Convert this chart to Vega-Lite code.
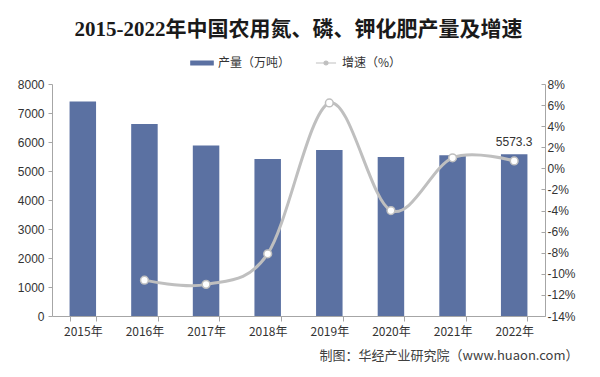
{
  "$schema": "https://vega.github.io/schema/vega-lite/v6.json",
  "width": 493,
  "height": 232,
  "autosize": {"type": "none"},
  "padding": {"left": 52, "top": 84, "right": 55, "bottom": 61},
  "background": "white",
  "title": {
    "text": "2015-2022年中国农用氮、磷、钾化肥产量及增速",
    "font": "Liberation Serif, Noto Sans CJK SC",
    "fontSize": 21,
    "fontWeight": "bold",
    "color": "#1a1a1a",
    "anchor": "middle",
    "offset": 11
  },
  "data": {
    "values": [
      {"year": "2015年", "output": 7400, "growth": null},
      {"year": "2016年", "output": 6620, "growth": -10.6},
      {"year": "2017年", "output": 5880, "growth": -11.0},
      {"year": "2018年", "output": 5410, "growth": -8.1},
      {"year": "2019年", "output": 5720, "growth": 6.2},
      {"year": "2020年", "output": 5480, "growth": -4.0},
      {"year": "2021年", "output": 5544, "growth": 1.0},
      {"year": "2022年", "output": 5573.3, "growth": 0.7}
    ]
  },
  "encoding": {
    "x": {
      "field": "year",
      "type": "ordinal",
      "sort": null,
      "scale": {"paddingInner": 0.57, "paddingOuter": 0.285},
      "axis": {
        "title": "制图：华经产业研究院（www.huaon.com）",
        "titleAnchor": "end",
        "titleAlign": "right",
        "titleX": 526,
        "titleY": 39,
        "titleBaseline": "middle",
        "titleFontSize": 13,
        "titleFontWeight": "normal",
        "titleColor": "#404040",
        "titleFont": "Noto Sans CJK SC",
        "labelAngle": 0,
        "labelFont": "Noto Sans CJK SC",
        "labelFontSize": 12,
        "labelColor": "#333333",
        "labelPadding": 5,
        "tickBand": "extent",
        "tickSize": 5,
        "tickColor": "#a6a6a6",
        "domainColor": "#a6a6a6"
      }
    }
  },
  "layer": [
    {
      "encoding": {
        "y": {
          "field": "output",
          "type": "quantitative",
          "scale": {"domain": [0, 8000], "nice": false},
          "axis": {
            "title": null,
            "values": [0, 1000, 2000, 3000, 4000, 5000, 6000, 7000, 8000],
            "format": "d",
            "grid": false,
            "labelFont": "Liberation Sans",
            "labelFontSize": 12,
            "labelColor": "#333333",
            "labelPadding": 4,
            "tickSize": 4,
            "tickColor": "#a6a6a6",
            "domainColor": "#a6a6a6"
          }
        }
      },
      "layer": [
        {
          "mark": {"type": "bar", "color": "#5b71a2"},
          "encoding": {
            "color": {
              "datum": "产量（万吨）",
              "type": "nominal",
              "scale": {"domain": ["产量（万吨）", "增速（%）"], "range": ["#5b71a2", "#bfbfbf"]},
              "legend": {
                "title": null,
                "orient": "none",
                "legendX": 138,
                "legendY": -33,
                "direction": "horizontal",
                "labelFont": "Noto Sans CJK SC",
                "labelFontSize": 12,
                "labelColor": "#333333",
                "columnPadding": 22,
                "symbolSize": 500,
                "symbolStrokeWidth": 1.2,
                "encode": {
                  "symbols": {
                    "update": {
                      "shape": {"signal": "datum.value == '产量（万吨）' ? 'M-1,-0.18L1,-0.18L1,0.18L-1,0.18Z' : 'M-0.9,0L-0.18,0M0.18,0L0.9,0M-0.18,0A0.18,0.18,0,1,1,0.18,0A0.18,0.18,0,1,1,-0.18,0Z'"},
                      "fill": {"signal": "datum.value == '产量（万吨）' ? '#5b71a2' : 'white'"},
                      "stroke": {"signal": "datum.value == '产量（万吨）' ? '#5b71a2' : '#a6a6a6'"},
                      "size": {"value": 500},
                      "opacity": {"value": 1}
                    }
                  }
                }
              }
            }
          }
        },
        {
          "transform": [{"filter": "datum.year == '2022年'"}],
          "mark": {"type": "text", "dy": -12, "font": "Liberation Sans", "fontSize": 12, "color": "#333333"},
          "encoding": {
            "text": {"field": "output", "type": "quantitative", "format": ".1f"}
          }
        }
      ]
    },
    {
      "transform": [{"filter": "datum.growth != null"}],
      "mark": {
        "type": "line",
        "interpolate": "cardinal",
        "strokeWidth": 3,
        "point": {"filled": true, "fill": "white", "stroke": "#bfbfbf", "strokeWidth": 1.5, "size": 60, "opacity": 1}
      },
      "encoding": {
        "y": {
          "field": "growth",
          "type": "quantitative",
          "scale": {"domain": [-14, 8], "nice": false},
          "axis": {
            "title": null,
            "orient": "right",
            "values": [-14, -12, -10, -8, -6, -4, -2, 0, 2, 4, 6, 8],
            "labelExpr": "datum.value + '%'",
            "grid": false,
            "labelFont": "Liberation Sans",
            "labelFontSize": 12,
            "labelColor": "#333333",
            "labelPadding": 6,
            "tickSize": -4,
            "tickColor": "#a6a6a6",
            "domainColor": "#a6a6a6"
          }
        },
        "color": {"datum": "增速（%）", "type": "nominal"}
      }
    }
  ],
  "resolve": {"scale": {"y": "independent"}},
  "config": {"view": {"stroke": null}}
}
